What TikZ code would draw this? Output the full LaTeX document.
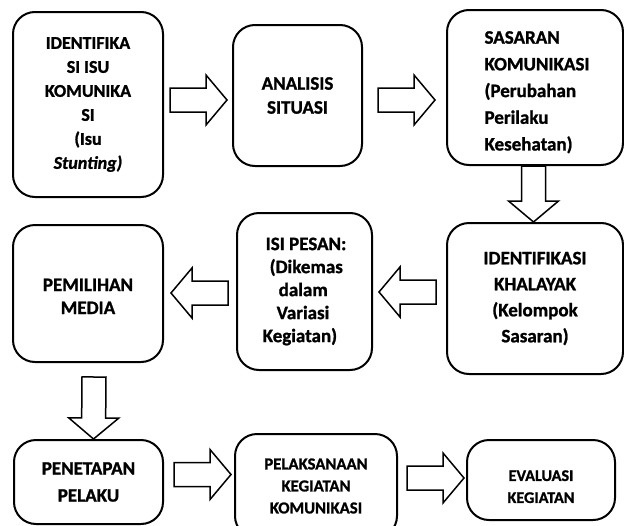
\documentclass[tikz,border=0pt]{standalone}
\usepackage{fontspec}
\setmainfont{Carlito}[BoldFeatures={FakeBold=1.2},BoldItalicFeatures={FakeBold=1.2}]
\usetikzlibrary{calc}

% hollow block arrow from #1 to #2 (tip at #2)
\newcommand{\flowarrow}[2]{%
  \coordinate (fa-s) at (#1);
  \coordinate (fa-e) at (#2);
  \coordinate (fa-b) at ($(fa-e)!21pt!(fa-s)$);
  \draw[blockarr] ($(fa-s)!12pt!90:(fa-e)$) -- ($(fa-b)!12pt!-90:(fa-s)$)
    -- ($(fa-b)!25pt!-90:(fa-s)$) -- (fa-e) -- ($(fa-b)!25pt!90:(fa-s)$)
    -- ($(fa-b)!12pt!90:(fa-s)$) -- ($(fa-s)!12pt!-90:(fa-e)$) -- cycle;
}

\begin{document}
\begin{tikzpicture}[x=1pt,y=1pt,
  box/.style={draw,line width=2pt,rounded corners=22pt,align=center,inner sep=0pt,
    font=\bfseries\fontsize{19}{24}\selectfont},
  blockarr/.style={draw,line width=1.5pt,line join=miter}
]
  \useasboundingbox (0,0) rectangle (624,-525);

  % top row
  \node[box, minimum width=150pt, minimum height=185pt, font=\bfseries\fontsize{18}{24}\selectfont] (isu) at (88,-104.5)
    {IDENTIFIKA\\SI ISU\\KOMUNIKA\\SI\\(Isu\\\textit{Stunting)}};
  \node[box, minimum width=129pt, minimum height=141pt] (analisis) at (297.5,-95.5)
    {ANALISIS\\SITUASI};
  \node[box, minimum width=176pt, minimum height=155pt, align=left, font=\bfseries\fontsize{19}{26.7}\selectfont] (sasaran) at (535,-87.5)
    {\rule{0pt}{22pt}\hspace*{4pt}SASARAN\\\hspace*{4pt}KOMUNIKASI\\\hspace*{4pt}(Perubahan\\\hspace*{4pt}Perilaku\\\hspace*{4pt}Kesehatan)};

  % middle row
  \node[box, minimum width=176pt, minimum height=151pt, font=\bfseries\fontsize{19}{26}\selectfont] (khalayak) at (535,-298.5)
    {IDENTIFIKASI\\KHALAYAK\\(Kelompok\\Sasaran)};
  \node[box, minimum width=135pt, minimum height=157pt, align=left, font=\bfseries\fontsize{19}{23}\selectfont] (pesan) at (304.5,-291.5)
    {\hspace*{3pt}ISI PESAN:\\\hspace*{7pt}(Dikemas\\\hspace*{16pt}dalam\\\hspace*{14pt}Variasi\\Kegiatan)};
  \node[box, minimum width=150pt, minimum height=137pt, font=\bfseries\fontsize{19}{23}\selectfont] (media) at (88,-293.5)
    {\rule{0pt}{18pt}PEMILIHAN\\MEDIA};

  % bottom row
  \node[box, minimum width=149pt, minimum height=84pt, font=\bfseries\fontsize{19}{27}\selectfont] (pelaku) at (88.5,-482)
    {PENETAPAN\\PELAKU};
  \node[box, minimum width=162pt, minimum height=104pt, font=\bfseries\fontsize{16.7}{22}\selectfont] (pelaksanaan) at (316,-486)
    {PELAKSANAAN\\KEGIATAN\\KOMUNIKASI};
  \node[box, minimum width=148pt, minimum height=80pt, font=\bfseries\fontsize{16.2}{22}\selectfont] (evaluasi) at (541,-480)
    {\rule{0pt}{24pt}EVALUASI\\KEGIATAN};

  % block arrows
  \flowarrow{$(isu.east |- 0,-100)+(6pt,0)$}{$(analisis.west |- 0,-100)+(-5pt,0)$}
  \flowarrow{$(analisis.east |- 0,-100)+(15pt,0)$}{$(sasaran.west |- 0,-100)+(-11pt,0)$}
  \flowarrow{$(sasaran.south)+(-1.5pt,0)$}{$(khalayak.north)+(-1.5pt,0)$}
  \flowarrow{$(khalayak.west |- 0,-292)+(-10pt,0)$}{$(pesan.east |- 0,-292)+(6pt,0)$}
  \flowarrow{$(pesan.west |- 0,-293)+(-8pt,0)$}{$(media.east |- 0,-293)+(7pt,0)$}
  \flowarrow{$(media.south)+(6pt,-14pt)$}{$(pelaku.north)+(5pt,0)$}
  \flowarrow{$(pelaku.east |- 0,-474.5)+(10pt,0)$}{$(pelaksanaan.west |- 0,-474.5)+(-3pt,0)$}
  \flowarrow{$(pelaksanaan.east |- 0,-478)+(9pt,0)$}{$(evaluasi.west |- 0,-478)+(-2pt,0)$}
\end{tikzpicture}
\end{document}
